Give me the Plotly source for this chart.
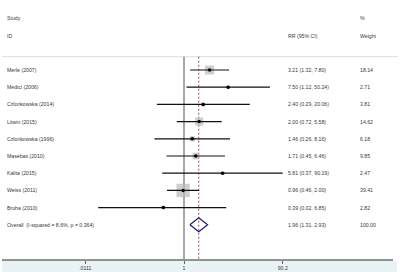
import plotly.graph_objects as go

studies = ["Merle (2007)", "Medici (2006)", "Czlonkowska (2014)", "Litwin (2015)",
           "Czlonkowska (1996)", "Masebas (2010)", "Kalita (2015)", "Weiss (2011)",
           "Bruha (2010)"]
rr = [3.21, 7.50, 2.40, 2.00, 1.46, 1.71, 5.81, 0.96, 0.39]
lo = [1.32, 1.12, 0.29, 0.72, 0.26, 0.45, 0.37, 0.46, 0.02]
hi = [7.80, 50.24, 20.06, 5.58, 8.16, 6.46, 90.19, 2.00, 6.85]
weights = [18.14, 2.71, 3.81, 14.62, 6.18, 9.85, 2.47, 39.41, 2.82]

overall_label = "Overall  (I-squared = 8.6%, p = 0.364)"
overall_rr, overall_lo, overall_hi = 1.96, 1.31, 2.93
overall_weight = "100.00"

tick_vals = [0.0111, 1, 90.2]
tick_text = [".0111", "1", "90.2"]

W, H = 400, 274
MB = 14
PX_PER_DEC = 50.5
X_ONE = 184.0
ROW0 = 70.0
ROW_H = 17.2
PLOT_H = H - MB

yr_top = (0 - ROW0) / ROW_H
yr_bot = (PLOT_H - ROW0) / ROW_H
xr = [(0 - X_ONE) / PX_PER_DEC, (W - X_ONE) / PX_PER_DEC]

rows = list(range(len(studies)))
overall_row = len(studies)

fig = go.Figure()

# weight boxes
max_w = max(weights)
box_sizes = [13.3 * (w / max_w) ** 0.5 for w in weights]
fig.add_trace(go.Scatter(x=rr, y=rows, mode="markers",
                         marker=dict(symbol="square", size=box_sizes, color="#b9b9b9",
                                     line=dict(width=0)),
                         hoverinfo="skip", showlegend=False))

# CI lines
cx, cy = [], []
for l, h, r in zip(lo, hi, rows):
    cx += [l, h, None]
    cy += [r, r, None]
fig.add_trace(go.Scatter(x=cx, y=cy, mode="lines", line=dict(color="#111111", width=1.2),
                         hoverinfo="skip", showlegend=False))

# point estimates
fig.add_trace(go.Scatter(x=rr, y=rows, mode="markers",
                         marker=dict(symbol="circle", size=3.5, color="#000000"),
                         hoverinfo="skip", showlegend=False))

# overall diamond
dh = 7.0 / ROW_H
fig.add_trace(go.Scatter(x=[overall_lo, overall_rr, overall_hi, overall_rr, overall_lo],
                         y=[overall_row, overall_row - dh, overall_row, overall_row + dh, overall_row],
                         mode="lines", line=dict(color="#1c1c6e", width=1.2),
                         hoverinfo="skip", showlegend=False))

top_line_y = (56.7 - ROW0) / ROW_H
top_paper = (PLOT_H - 56.7) / PLOT_H

shapes = [
    dict(type="rect", xref="paper", yref="paper", x0=2 / W, x1=397 / W,
         y0=-(272 - PLOT_H) / PLOT_H, y1=-(261 - PLOT_H) / PLOT_H,
         fillcolor="#e9f2f5", line=dict(width=0), layer="below"),
    dict(type="line", xref="paper", yref="paper", x0=2 / W, x1=393 / W, y0=0, y1=0,
         line=dict(color="#8c9494", width=2)),
    dict(type="line", xref="paper", yref="y", x0=2 / W, x1=398 / W,
         y0=top_line_y, y1=top_line_y, line=dict(color="#dcdcdc", width=1), layer="below"),
    dict(type="line", xref="x", yref="paper", x0=1, x1=1, y0=top_paper, y1=0,
         line=dict(color="#8a8a8a", width=1.5), layer="below"),
    dict(type="line", xref="x", yref="paper", x0=overall_rr, x1=overall_rr, y0=top_paper, y1=0,
         line=dict(color="#a04a66", width=1, dash="2px,2px"), layer="below"),
]

ann = []
FS = 5.2
TC = "#3a3a3a"
FONT = "Liberation Sans, Arial, sans-serif"

def txt(xp, yi, t):
    ann.append(dict(x=xp / W, y=yi, xref="paper", yref="y", text=t, showarrow=False,
                    xanchor="left", yanchor="middle",
                    font=dict(size=FS, color=TC, family=FONT)))

txt(5.3, -3, "Study")
txt(5.3, -2, "ID")
txt(358.3, -3, "%")
txt(285.7, -2, "RR (95% CI)")
txt(358.3, -2, "Weight")
for i, s in enumerate(studies):
    txt(5.3, i, s)
    txt(285.7, i, f"{rr[i]:.2f} ({lo[i]:.2f}, {hi[i]:.2f})")
    txt(358.3, i, f"{weights[i]:.2f}")
txt(5.3, overall_row, overall_label)
txt(285.7, overall_row, f"{overall_rr:.2f} ({overall_lo:.2f}, {overall_hi:.2f})")
txt(358.3, overall_row, overall_weight)

fig.update_layout(
    width=W, height=H, margin=dict(l=0, r=0, t=0, b=MB),
    paper_bgcolor="white", plot_bgcolor="white",
    shapes=shapes, annotations=ann, showlegend=False,
    xaxis=dict(type="log", range=xr, showgrid=False, zeroline=False, showline=False,
               tickvals=tick_vals, ticktext=tick_text, ticks="outside", ticklen=3,
               tickcolor="#666666", tickwidth=1,
               tickfont=dict(size=5.2, color=TC, family=FONT)),
    yaxis=dict(range=[yr_bot, yr_top], showgrid=False, zeroline=False, showline=False,
               showticklabels=False, ticks=""),
)

fig.write_html("out.html", config={"displayModeBar": False},
               post_script="document.body.style.margin='0px';document.body.style.overflow='hidden';")
